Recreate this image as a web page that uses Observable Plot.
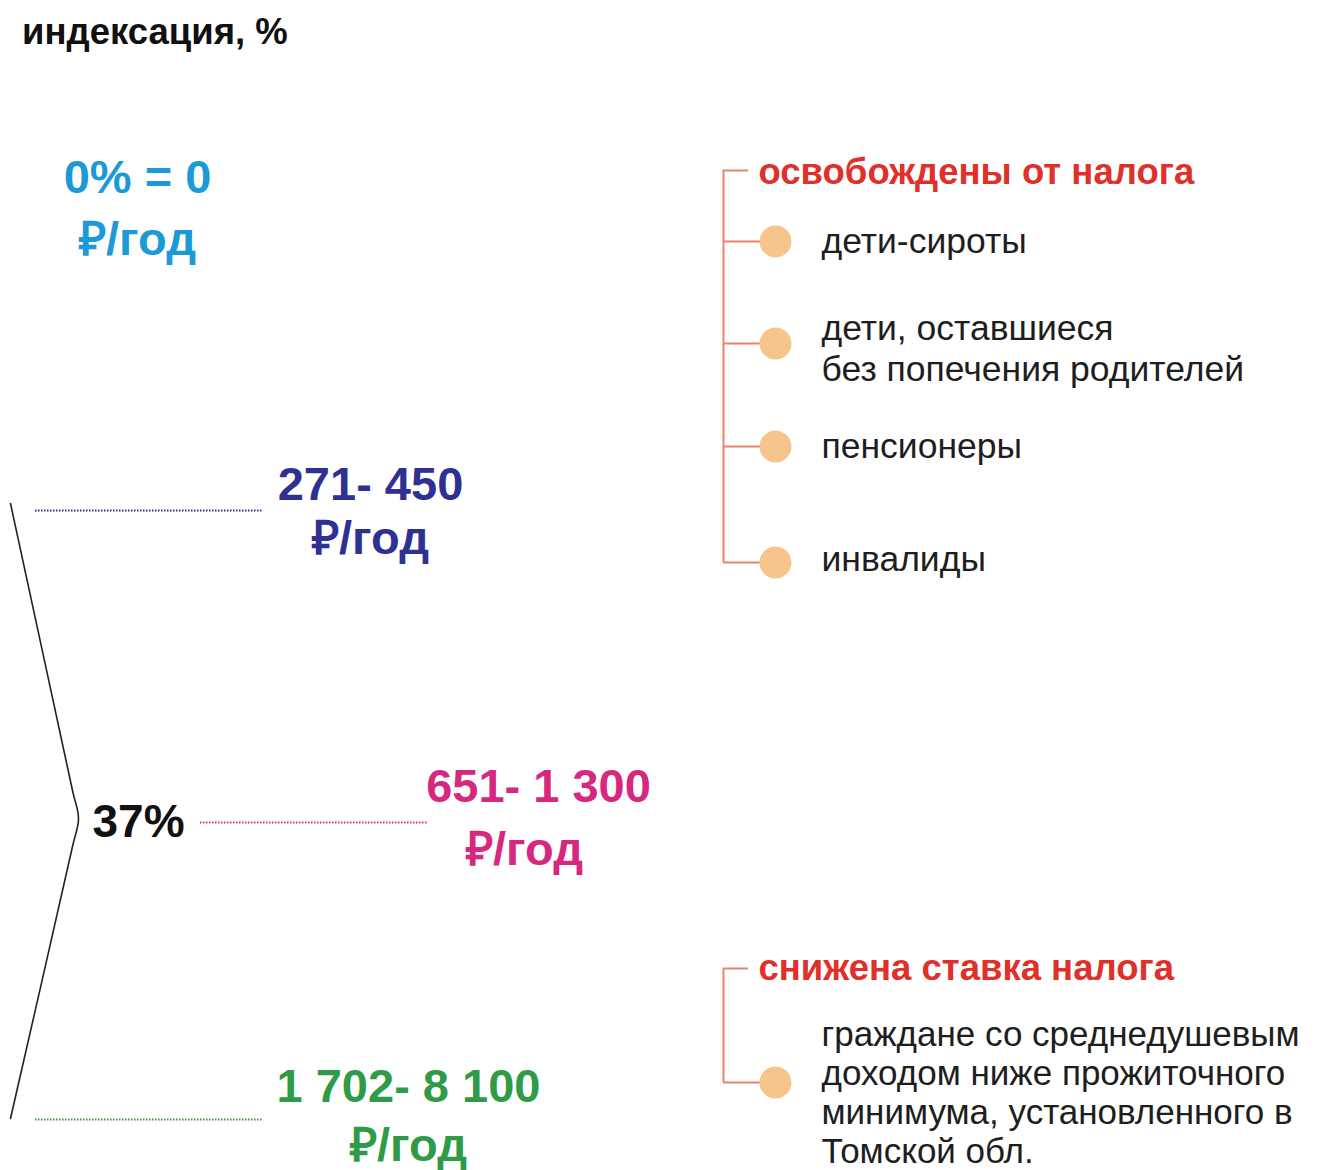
<!DOCTYPE html>
<html>
<head>
<meta charset="utf-8">
<script src="https://cdn.jsdelivr.net/npm/d3@7"></script>
<script src="https://cdn.jsdelivr.net/npm/@observablehq/plot@0.6"></script>
<style>
  html, body { margin: 0; padding: 0; background: #fff; }
  #title { height: 70px; box-sizing: border-box; padding: 12px 0 0 22px; font: bold 36.5px/40px "Liberation Sans", Arial, sans-serif; color: #111; }
  #chart svg { display: block; }
</style>
</head>
<body>
<div id="title"></div>
<div id="chart"></div>
<script>
// ---------- data ----------
const titleText = "индексация, %";
const tierLabels = ["0% = 0", "271- 450", "651- 1 300", "1 702- 8 100"];
const tierUnit = "₽/год";
const tierColors = ["#1b9ad6", "#2e3192", "#d5287e", "#2f9b47"];
const rateLabel = "37%";
const exemptHeader = "освобождены от налога";
const exemptItems = ["дети-сироты", "дети, оставшиеся\nбез попечения родителей", "пенсионеры", "инвалиды"];
const reducedHeader = "снижена ставка налога";
const reducedItems = ["граждане со среднедушевым\nдоходом ниже прожиточного\nминимума, установленного в\nТомской обл."];

// ---------- layout (page pixel positions, kept apart from data) ----------
const W = 1322, H = 1170, TOP = 70;
const L = {
  tierX: [137, 370, 538, 408],
  unitX: [137, 370, 524, 408],
  tierY: [192, 499, 801, 1101],
  unitDy: [62, 54, 63, 59],
  dotted: [null, {x1: 35, x2: 262, y: 510}, {x1: 200, x2: 428, y: 822}, {x1: 35, x2: 262, y: 1119}],
  rate: {x: 92, y: 836},
  bracket: [[10, 503], [72, 790], [78, 818], [72, 846], [10, 1118]],
  treeX: 723, tickX2: 748, branchX2: 762, dotX: 775, textX: 821, headerX: 758,
  groups: [
    {headerY: 170, headerBase: 183, dotY: [241, 343, 446, 562], textY: [252, 339, 457, 570], step: 41, size: 35.5},
    {headerY: 968, headerBase: 979, dotY: [1082], textY: [1045], step: 39, size: 35}
  ]
};
const font = "Liberation Sans, Arial, sans-serif";
const treeColor = "#e8836c", dotColor = "#f7c58c", headColor = "#e0302a", textColor = "#1e1e1e";

document.getElementById("title").textContent = titleText;

// ---------- derived tables ----------
const tiers = tierLabels.map((t, i) => ({label: t, color: tierColors[i], x: L.tierX[i], y: L.tierY[i], ux: L.unitX[i], uy: L.tierY[i] + L.unitDy[i]}));
const dotted = tiers.map((t, i) => L.dotted[i] ? {...L.dotted[i], color: t.color} : null).filter(d => d);
const bracket = L.bracket.map(([x, y]) => ({x, y}));

const groups = [
  {header: exemptHeader, items: exemptItems, ...L.groups[0]},
  {header: reducedHeader, items: reducedItems, ...L.groups[1]}
];
const headers = groups.map(g => ({text: g.header, y: g.headerBase}));
const vlines = groups.map(g => ({y1: g.headerY, y2: g.dotY[g.dotY.length - 1]}));
const ticks = groups.map(g => ({y: g.headerY}));
const branches = groups.flatMap(g => g.dotY.map(y => ({y})));
const itemLines = groups.flatMap(g => g.items.flatMap((it, i) => it.split("\n").map((line, j) => ({text: line, y: g.textY[i] + j * g.step, size: g.size}))));

const chart = Plot.plot({
  width: W, height: H - TOP,
  margin: 0,
  x: {domain: [0, W], range: [0, W], axis: null},
  y: {domain: [TOP, H], range: [0, H - TOP], axis: null},
  style: {fontFamily: font, background: "white", overflow: "hidden"},
  marks: [
    // bracket
    Plot.line(bracket, {x: "x", y: "y", curve: "catmull-rom", stroke: "#222", strokeWidth: 1.6}),
    // dotted leaders
    Plot.ruleY(dotted, {x1: "x1", x2: "x2", y: "y", stroke: "color", strokeWidth: 2, strokeDasharray: "1.5,1.5"}),
    // tier values
    Plot.text(tiers, {x: "x", y: "y", text: "label", fill: "color", fontSize: 47, fontWeight: "bold", lineAnchor: "bottom", textAnchor: "middle"}),
    Plot.text(tiers, {x: "ux", y: "uy", text: () => tierUnit, fill: "color", fontSize: 47, fontWeight: "bold", lineAnchor: "bottom", textAnchor: "middle"}),
    // rate
    Plot.text([L.rate], {x: "x", y: "y", text: () => rateLabel, fill: "#111", fontSize: 46, fontWeight: "bold", lineAnchor: "bottom", textAnchor: "start"}),
    // tree lines
    Plot.ruleX(vlines, {x: () => L.treeX, y1: "y1", y2: "y2", stroke: treeColor, strokeWidth: 2}),
    Plot.ruleY(ticks, {x1: () => L.treeX, x2: () => L.tickX2, y: "y", stroke: treeColor, strokeWidth: 2}),
    Plot.ruleY(branches, {x1: () => L.treeX, x2: () => L.branchX2, y: "y", stroke: treeColor, strokeWidth: 2}),
    Plot.dot(branches, {x: () => L.dotX, y: "y", r: 16, fill: dotColor, stroke: null}),
    // headers and items
    Plot.text(headers, {x: () => L.headerX, y: "y", text: "text", fill: headColor, fontSize: 36.5, fontWeight: "bold", lineAnchor: "bottom", textAnchor: "start"}),
    Plot.text(itemLines, {x: () => L.textX, y: "y", text: "text", fill: textColor, fontSize: d => d.size, lineAnchor: "bottom", textAnchor: "start"})
  ]
});
document.getElementById("chart").appendChild(chart);
</script>
</body>
</html>
